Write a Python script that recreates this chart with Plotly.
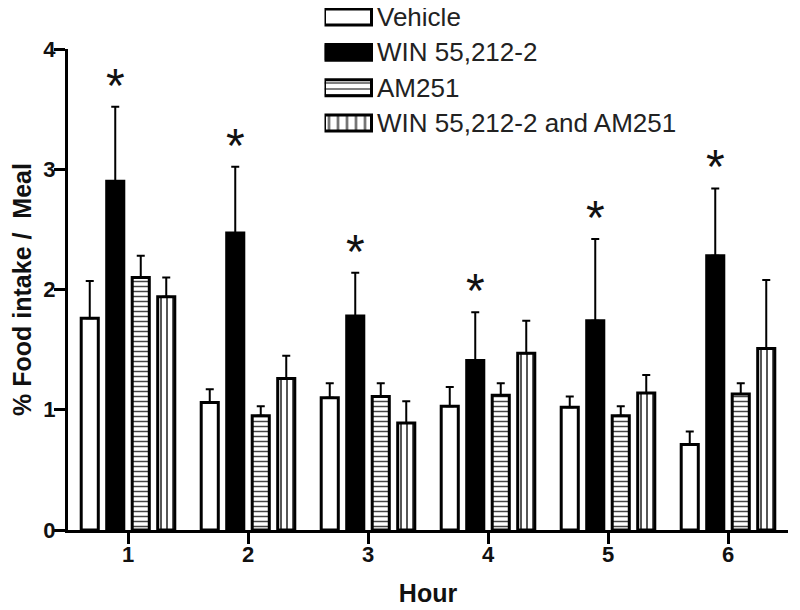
import plotly.graph_objects as go

hours = [1, 2, 3, 4, 5, 6]
series_names = ["Vehicle", "WIN 55,212-2", "AM251", "WIN 55,212-2 and AM251"]
vehicle = [1.76, 1.06, 1.10, 1.03, 1.02, 0.71]
vehicle_err = [0.31, 0.11, 0.12, 0.16, 0.09, 0.11]
win = [2.90, 2.47, 1.78, 1.41, 1.74, 2.28]
win_err = [0.62, 0.55, 0.36, 0.40, 0.68, 0.56]
am251 = [2.10, 0.95, 1.11, 1.12, 0.95, 1.13]
am251_err = [0.18, 0.08, 0.11, 0.10, 0.08, 0.09]
combo = [1.94, 1.26, 0.89, 1.47, 1.14, 1.51]
combo_err = [0.16, 0.19, 0.18, 0.27, 0.15, 0.57]
significant = [True, True, True, True, True, True]  # WIN vs vehicle
y_ticks = [0, 1, 2, 3, 4]

FONT = "Liberation Sans, Arial, Helvetica, sans-serif"
BARGAP = 0.15
BARGROUPGAP = 0.33
N_SERIES = 4

# page body has an 8px margin, so the figure is sized/placed to compensate
W, H = 792, 602
L, R, T, B = 60, 12, 0, 80
PLOT_H = H - T - B

styles = [
    dict(color="white", shape="", size=6),
    dict(color="black", shape="", size=6),
    dict(color="white", shape="-", size=5),
    dict(color="white", shape="|", size=6),
]
values = [vehicle, win, am251, combo]
errors = [vehicle_err, win_err, am251_err, combo_err]

fig = go.Figure()
for name, vals, errs, st in zip(series_names, values, errors, styles):
    pattern = dict(shape=st["shape"], fgcolor="#444", bgcolor=st["color"],
                   size=st["size"], solidity=0.3, fillmode="replace")
    fig.add_trace(go.Bar(
        x=hours, y=vals, name=name, showlegend=False,
        marker=dict(color=st["color"], line=dict(color="black", width=3), pattern=pattern),
        error_y=dict(type="data", symmetric=False, array=errs, arrayminus=[0] * len(errs),
                     color="black", thickness=2, width=4),
        xaxis="x", yaxis="y",
    ))

# significance stars above WIN error bars
slot = (1 - BARGAP) / N_SERIES
win_offset = -(1 - BARGAP) / 2 + slot * 1.5
for h, v, e, s in zip(hours, win, win_err, significant):
    if s:
        fig.add_annotation(x=h + win_offset, y=v + e, xref="x", yref="y", text="*",
                           showarrow=False, yanchor="bottom", yshift=-7,
                           font=dict(family=FONT, size=48, color="#111"))

# custom legend: swatches drawn as bars on a hidden subplot
SW_H = 0.45
for r, (name, st) in enumerate(zip(series_names, styles)):
    fig.add_trace(go.Bar(
        x=[0.5], y=[SW_H], base=[r - SW_H / 2], width=[1], showlegend=False,
        hoverinfo="skip", xaxis="x2", yaxis="y2", offsetgroup="legend",
        marker=dict(color=st["color"], line=dict(color="black", width=3),
                    pattern=dict(shape=st["shape"], fgcolor="#555", bgcolor=st["color"],
                                 size=6 if st["shape"] == "-" else 9, solidity=0.25,
                                 fillmode="replace")),
    ))
    fig.add_annotation(x=1, y=r, xref="x2", yref="y2", text=name, showarrow=False,
                       xanchor="left", yanchor="middle", xshift=3,
                       font=dict(family=FONT, size=26, color="#222"))

fig.update_layout(
    width=W, height=H,
    margin=dict(l=L, r=R, t=T, b=B, pad=0),
    paper_bgcolor="white", plot_bgcolor="white",
    barmode="group", bargap=BARGAP, bargroupgap=BARGROUPGAP,
    font=dict(family=FONT, color="#111"),
    xaxis=dict(range=[0.5, 6.5], tickvals=hours, ticktext=[f"<b>{h}</b>" for h in hours],
               showline=True, linecolor="black", linewidth=3, ticks="outside",
               ticklen=11, tickwidth=3, tickcolor="black", showgrid=False, zeroline=False,
               tickfont=dict(family=FONT, size=22, color="#111"), automargin=False,
               ticklabelstandoff=-8,
               title=dict(text="<b>Hour</b>", font=dict(family=FONT, size=25, color="#111"),
                          standoff=19),
               anchor="y"),
    yaxis=dict(range=[0, 4], tickvals=y_ticks, ticktext=[f"<b>{t}</b>" for t in y_ticks],
               domain=[0, (PLOT_H - 41) / PLOT_H],
               showline=True, linecolor="black", linewidth=3, ticks="outside",
               ticklen=11, tickwidth=3, tickcolor="black", showgrid=False, zeroline=False,
               tickfont=dict(family=FONT, size=22, color="#111"), automargin=False,
               ticklabelstandoff=-6,
               title=dict(text="<b>% Food intake /  Meal</b>",
                          font=dict(family=FONT, size=25, color="#111"), standoff=6),
               anchor="x"),
    xaxis2=dict(domain=[(316.5 - L) / 720, 1], range=[0, 463.5 / 47], visible=False,
                anchor="y2", fixedrange=True),
    yaxis2=dict(domain=[(PLOT_H - 132) / PLOT_H, 1], range=[3.48, -0.255], visible=False,
                anchor="x2", fixedrange=True),
)

fig.write_html("out.html")
